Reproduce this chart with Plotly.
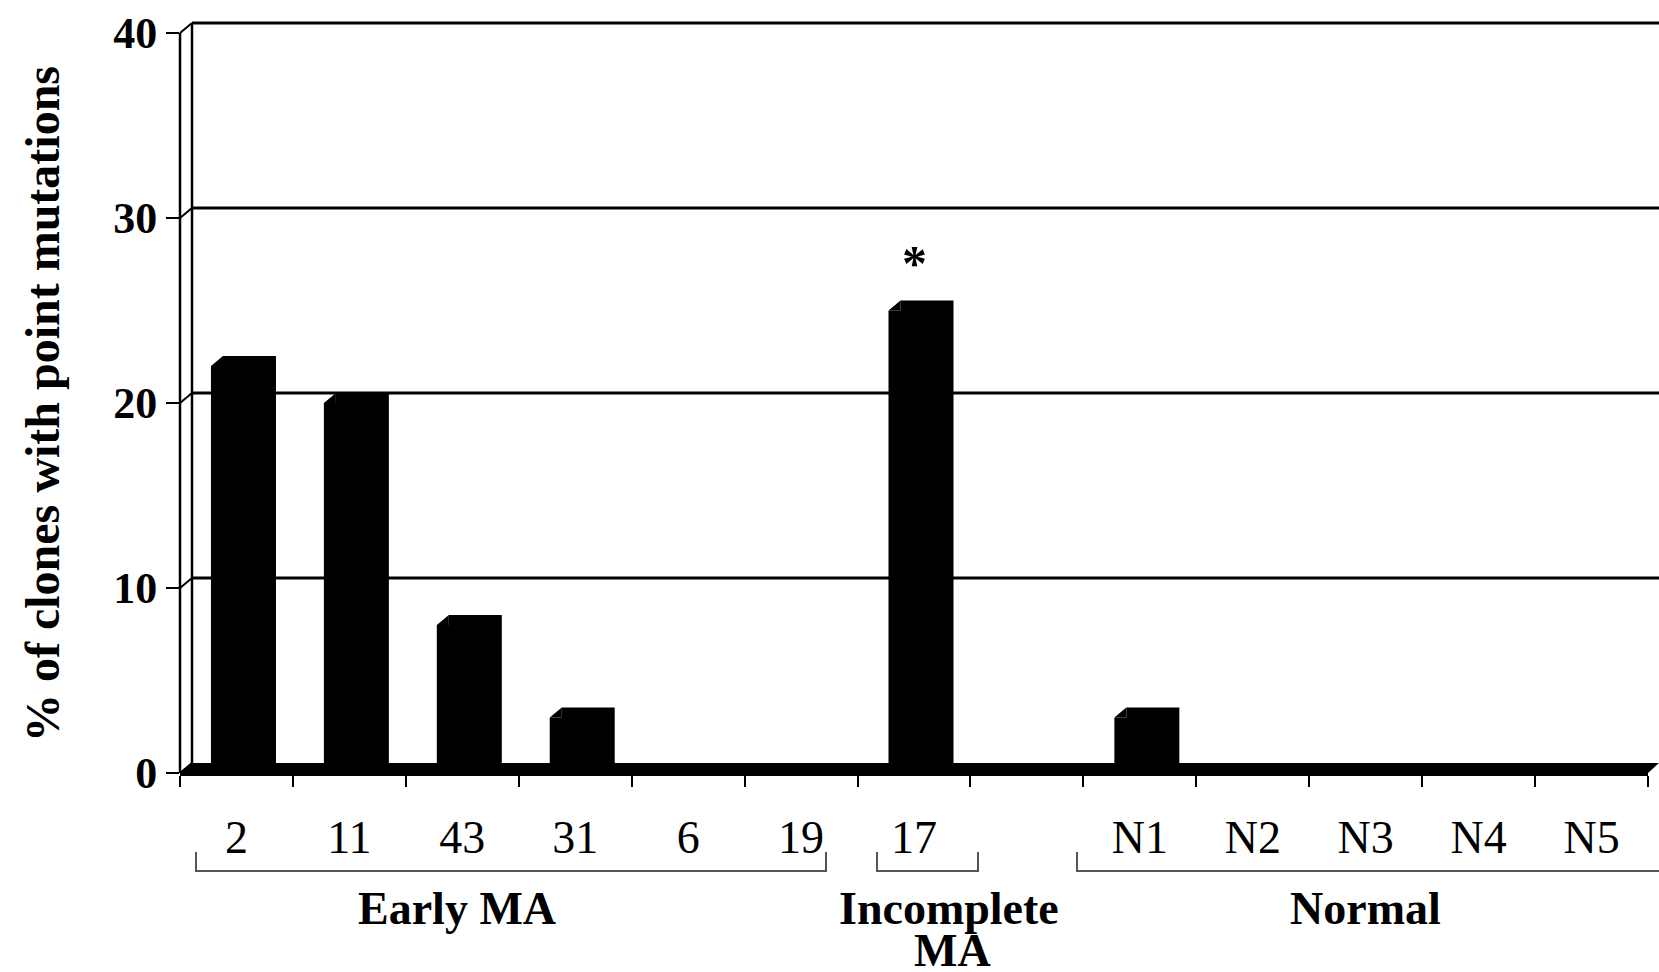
import plotly.graph_objects as go

# ---- data -------------------------------------------------------------
categories = ["2", "11", "43", "31", "6", "19", "17", " ", "N1", "N2", "N3", "N4", "N5"]
pct_point_mutations = [22, 20, 8, 3, 0, 0, 25, 0, 3, 0, 0, 0, 0]
y_tick_values = [0, 10, 20, 30, 40]
group_names = ["Early MA", "Incomplete", "MA", "Normal"]
significant_category = "17"

# ---- geometry (pixels) ------------------------------------------------
W, H = 1659, 972
L, R, T, B = 180, 0, 18, 199
AXIS_W = 1468                  # pixel length of the category axis
PLOT_W = W - L - R             # paper width in pixels
PLOT_H = H - T - B
PPU = 18.5                     # pixels per percentage point
DEPTH_X, DEPTH_Y = 12, 10      # 3-D depth offset of the back wall
SLOT = AXIS_W / len(categories)

OFF = DEPTH_Y / PPU            # back-wall offset in value units
Y_TOP = PLOT_H / PPU
BACK_X = DEPTH_X / PLOT_W      # back wall in paper units
DX = DEPTH_X / SLOT            # depth offset in category units
BAR_W = 53 / SLOT
FRONT_SHIFT = 1 / SLOT

FONT = "Liberation Serif"


def px_x(px):
    return (px - L) / PLOT_W


def px_y(py):
    return (H - B - py) / PLOT_H


idx = list(range(len(categories)))
front_x = [i + FRONT_SHIFT for i in idx]
back_x = [i + FRONT_SHIFT + DX for i in idx]

fig = go.Figure()

# back (top/side) faces of the columns, on the back-wall axis
fig.add_trace(go.Bar(
    x=back_x, y=pct_point_mutations, width=BAR_W,
    marker=dict(color="black", line=dict(width=0)),
    xaxis="x", yaxis="y2", hoverinfo="skip",
))
# front faces of the columns
fig.add_trace(go.Bar(
    x=front_x, y=pct_point_mutations, width=BAR_W,
    marker=dict(color="black", line=dict(width=0)),
    xaxis="x", yaxis="y",
))

# bevelled corner joining front and back faces
cx, cy = [], []
for i, v in zip(idx, pct_point_mutations):
    if v <= 0:
        continue
    x0 = i + FRONT_SHIFT - BAR_W / 2
    cx += [x0, x0 + DX, x0 + DX, x0, None]
    cy += [v, v + OFF, v, v, None]
fig.add_trace(go.Scatter(
    x=cx, y=cy, mode="lines", fill="toself", fillcolor="black",
    line=dict(width=0, color="black"), hoverinfo="skip",
    xaxis="x", yaxis="y",
))

shapes = []
# floor of the 3-D box
shapes.append(dict(
    type="path", xref="paper", yref="y",
    path=f"M 0,0 L {AXIS_W / PLOT_W},0 L 1.0,{OFF} L {BACK_X},{OFF} Z",
    fillcolor="black", line=dict(width=0), layer="above",
))
# side wall: front edge (value axis) and back edge
shapes.append(dict(type="line", xref="paper", yref="y", x0=0, x1=0,
                   y0=0, y1=y_tick_values[-1], line=dict(color="black", width=2.5)))
shapes.append(dict(type="line", xref="paper", yref="y", x0=BACK_X, x1=BACK_X,
                   y0=OFF, y1=y_tick_values[-1] + OFF, line=dict(color="black", width=2.5)))
for v in y_tick_values:
    # side-wall gridline
    shapes.append(dict(type="line", xref="paper", yref="y", x0=0, x1=BACK_X,
                       y0=v, y1=v + OFF, line=dict(color="black", width=2)))
    if v > 0:
        # back-wall gridline
        shapes.append(dict(type="line", xref="paper", yref="y", x0=BACK_X, x1=1.0,
                           y0=v + OFF, y1=v + OFF, line=dict(color="black", width=3),
                           layer="below"))

# group brackets under the category labels
BR_Y, BR_TOP = 871, 852
brackets = [(196, 826), (877, 978), (1077, W + 20)]
for a, b in brackets:
    shapes.append(dict(type="path", xref="paper", yref="paper",
                       path=f"M {px_x(a)},{px_y(BR_TOP)} L {px_x(a)},{px_y(BR_Y)} "
                            f"L {px_x(b)},{px_y(BR_Y)} L {px_x(b)},{px_y(BR_TOP)}",
                       line=dict(color="#555555", width=2)))

annotations = []
group_pos = [(457, 908), (949, 908), (952, 950), (1365, 908)]
for name, (gx, gy) in zip(group_names, group_pos):
    annotations.append(dict(
        text=name, xref="paper", yref="paper", x=px_x(gx), y=px_y(gy),
        xanchor="center", yanchor="middle", showarrow=False,
        font=dict(family=FONT, size=46, color="black", weight="bold"),
    ))

# significance marker above column 17
sig = categories.index(significant_category)
annotations.append(dict(
    text="*", xref="x", yref="y2", x=sig, y=pct_point_mutations[sig],
    xanchor="center", yanchor="bottom", yshift=8, showarrow=False,
    font=dict(family=FONT, size=50, color="black", weight="bold"),
))

# value-axis title
annotations.append(dict(
    text="% of clones with point mutations", xref="paper", yref="paper",
    x=px_x(42), y=px_y(404), textangle=-90, xanchor="center", yanchor="middle",
    showarrow=False, font=dict(family=FONT, size=48, color="black", weight="bold"),
))

fig.update_layout(
    width=W, height=H,
    margin=dict(l=L, r=R, t=T, b=B, pad=0),
    paper_bgcolor="white", plot_bgcolor="white",
    showlegend=False, barmode="overlay",
    xaxis=dict(
        domain=[0, AXIS_W / PLOT_W], range=[-0.5, len(categories) - 0.5],
        tickmode="array", tickvals=idx, ticktext=categories, ticks="",
        ticklabelstandoff=22,
        tickfont=dict(family=FONT, size=46, color="black"),
        showline=True, linecolor="black", linewidth=3,
        showgrid=False, zeroline=False,
        minor=dict(tickmode="array", tickvals=[i - 0.5 for i in range(len(categories) + 1)],
                   ticks="outside", ticklen=11, tickwidth=2, tickcolor="black",
                   showgrid=False),
    ),
    yaxis=dict(
        domain=[0, 1], range=[0, Y_TOP],
        tickmode="array", tickvals=y_tick_values,
        ticks="outside", ticklen=13, tickwidth=2, tickcolor="black",
        tickfont=dict(family=FONT, size=44, color="black", weight="bold"),
        showline=False, showgrid=False, zeroline=False,
    ),
    yaxis2=dict(
        overlaying="y", anchor="x", range=[-OFF, Y_TOP - OFF],
        showticklabels=False, ticks="", showline=False, showgrid=False, zeroline=False,
    ),
    shapes=shapes,
    annotations=annotations,
)

fig.write_html("out.html")
